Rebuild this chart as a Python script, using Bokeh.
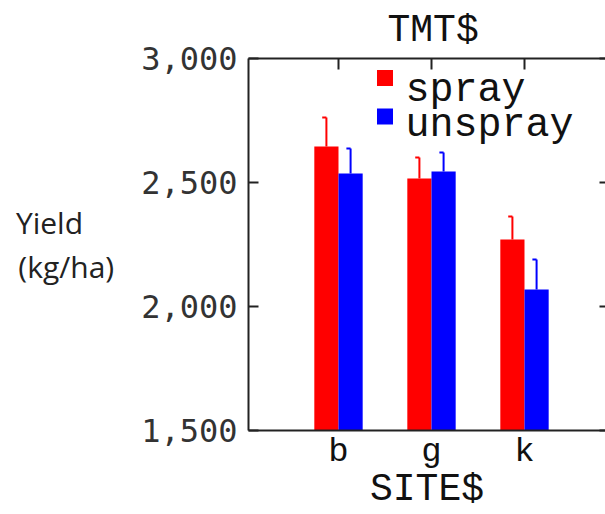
from bokeh.plotting import figure
from bokeh.models import (Range1d, LinearAxis, FixedTicker, NumeralTickFormatter,
                          ColumnDataSource)
from bokeh.core.properties import value
from bokeh.embed import file_html
from bokeh.resources import INLINE

# ---- data ----
sites = ["b", "g", "k"]
spray = [2645, 2516, 2270]
spray_err = [117, 85, 93]
unspray = [2536, 2544, 2069]
unspray_err = [101, 77, 121]
y_ticks = [1500, 2000, 2500, 3000]
series_names = ["spray", "unspray"]
series_colors = ["#ff0000", "#0000ff"]
title_text = "TMT$"
x_label = "SITE$"
y_label_lines = ["Yield", "(kg/ha)"]

pos = [i + 1 for i in range(len(sites))]
BW = 0.26
OFF = 0.13
CAP = 0.045

AX = "#222222"
MONO = "Liberation Mono"
NBSP = "\u00a0"

p = figure(width=605, height=514, output_backend="svg", toolbar_location=None,
           x_range=Range1d(0.0323, 3.871), y_range=Range1d(1500, 3000),
           min_border_left=248, min_border_right=0, min_border_top=58,
           min_border_bottom=84, background_fill_color="white",
           border_fill_color="white")
p.outline_line_color = None
p.xgrid.visible = False
p.ygrid.visible = False

# title
p.title.text = title_text
p.title.align = "left"
p.title.offset = 139
p.title.text_font = MONO
p.title.text_font_size = "38px"
p.title.text_font_style = "normal"
p.title.text_color = "#111111"
p.title.standoff = 13

# bottom axis
xa = p.xaxis[0]
xa.ticker = FixedTicker(ticks=pos)
xa.major_label_overrides = {pos[i]: sites[i] for i in range(len(sites))}
xa.major_tick_in = 0
xa.major_tick_out = 0
xa.minor_tick_line_color = None
xa.axis_line_width = 2
xa.axis_line_color = AX
xa.major_label_text_font = MONO
xa.major_label_text_font_size = "34px"
xa.major_label_text_color = "#111111"
xa.major_label_standoff = 2
xa.axis_label = x_label
xa.axis_label_text_font = MONO
xa.axis_label_text_font_size = "38px"
xa.axis_label_text_font_style = "normal"
xa.axis_label_text_color = "#111111"
xa.axis_label_standoff = -6

# left axis
ya = p.yaxis[0]
ya.ticker = FixedTicker(ticks=y_ticks)
ya.formatter = NumeralTickFormatter(format="0,0")
ya.major_tick_in = 10
ya.major_tick_out = 0
ya.major_tick_line_width = 2
ya.major_tick_line_color = AX
ya.minor_tick_line_color = None
ya.axis_line_width = 2
ya.axis_line_color = AX
ya.major_label_text_font = "DejaVu Sans Mono"
ya.major_label_text_font_size = "32px"
ya.major_label_text_color = "#333333"
ya.major_label_standoff = 11
ya.axis_label = y_label_lines[0] + NBSP * 4 + "\n" + y_label_lines[1]
ya.axis_label_orientation = "horizontal"
ya.axis_label_text_font = "Open Sans"
ya.axis_label_text_font_size = "30px"
ya.axis_label_text_font_style = "normal"
ya.axis_label_text_color = "#222222"
ya.axis_label_text_line_height = 1.06
ya.axis_label_standoff = 24

# top axis (ticks only)
ta = LinearAxis(ticker=FixedTicker(ticks=pos), major_tick_in=11, major_tick_out=0,
                major_tick_line_width=2, major_tick_line_color=AX,
                minor_tick_line_color=None, axis_line_width=2, axis_line_color=AX,
                major_label_overrides={t: "" for t in pos}, major_label_standoff=0)
p.add_layout(ta, "above")

# right axis (ticks only, no line)
ra = LinearAxis(ticker=FixedTicker(ticks=y_ticks), major_tick_in=6, major_tick_out=0,
                major_tick_line_width=2, major_tick_line_color=AX,
                minor_tick_line_color=None, axis_line_color=None,
                major_label_overrides={t: "" for t in y_ticks}, major_label_standoff=0)
p.add_layout(ra, "right")

# bars and error bars
for vals, errs, off, col in [(spray, spray_err, -OFF, series_colors[0]),
                             (unspray, unspray_err, OFF, series_colors[1])]:
    xs = [x + off for x in pos]
    tops = [v + e for v, e in zip(vals, errs)]
    src = ColumnDataSource(dict(x=xs, top=vals, etop=tops,
                                cx0=[x - CAP for x in xs]))
    p.vbar(x="x", top="top", bottom=1500, width=BW, source=src,
           fill_color=col, line_color=None)
    p.segment(x0="x", y0="top", x1="x", y1="etop", source=src,
              line_color=col, line_width=2)
    p.segment(x0="cx0", y0="etop", x1="x", y1="etop", source=src,
              line_color=col, line_width=2)

# legend (manual)
leg_x_sq = 1.50
leg_x_tx = 1.72
leg_y_sq = [2921, 2766]
leg_y_tx = [2871, 2730]
p.rect(x=[leg_x_sq] * 2, y=leg_y_sq, width=16, height=16, width_units="screen",
       height_units="screen", fill_color=series_colors, line_color=None)
p.text(x=[leg_x_tx] * 2, y=leg_y_tx, text=series_names,
       text_font=value(MONO), text_font_size="40px", text_color="#111111",
       text_baseline="alphabetic", text_align="left")

open("out.html", "w").write(file_html(p, INLINE))
